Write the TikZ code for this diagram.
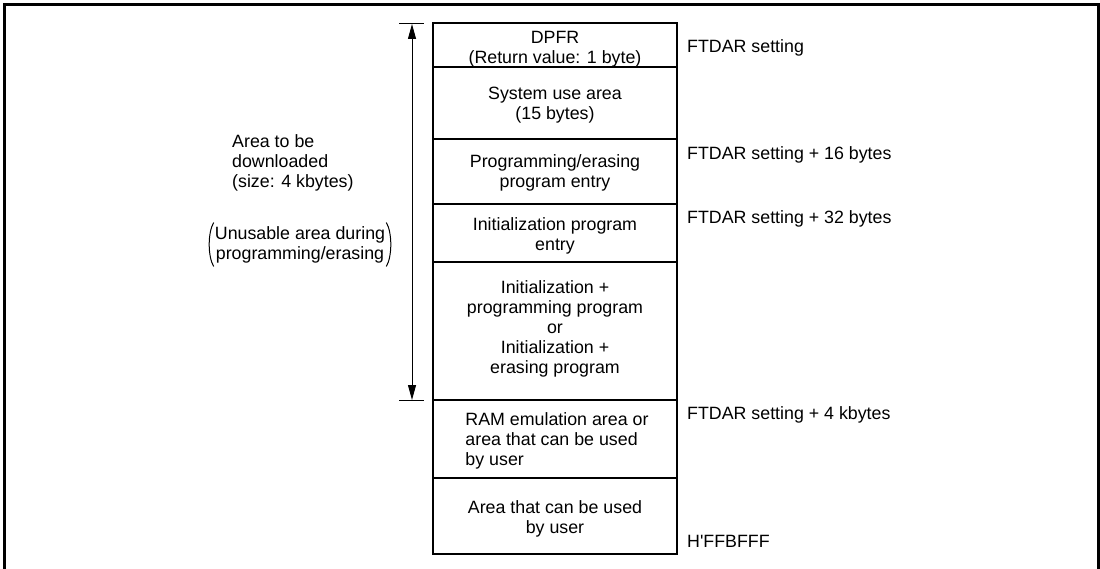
\documentclass[tikz,border=0pt]{standalone}
\usepackage{fontspec}
\setmainfont{Liberation Sans}
\usetikzlibrary{calc,arrows.meta}
\tikzset{
  txt/.style={font=\fontsize{17.8}{20}\selectfont, text=black, inner sep=0pt},
  memb/.style={draw, line width=2.2pt, minimum width=244pt, inner sep=0pt},
  memt/.style={txt, align=center},
  side/.style={txt, anchor=base west},
  dimline/.style={line width=1pt},
}
\begin{document}
\begin{tikzpicture}[x=1pt,y=-1pt]
\useasboundingbox (0,0) rectangle (1100,569);
% outer frame (open at bottom)
\coordinate (fbl) at (4.5,569);
\coordinate (ftl) at (4.5,4.5);
\coordinate (ftr) at (1098,4.5);
\coordinate (fbr) at (1098,569);
\draw[line width=3pt] (fbl) -- (ftl) -- (ftr) -- (fbr);

% memory map boxes
\node[memb, minimum height=44pt] (dpfr) at (555,45) {};
\node[memb, minimum height=72pt] (sys) at (555,103) {};
\node[memb, minimum height=65pt] (prog) at (555,171.5) {};
\node[memb, minimum height=58pt] (inite) at (555,233) {};
\node[memb, minimum height=138pt] (main) at (555,331) {};
\node[memb, minimum height=78pt] (ram) at (555,439) {};
\node[memb, minimum height=76pt] (user) at (555,516) {};

% box texts
\node[memt] (dpfrt) at ($(dpfr.center)+(0,4)$) {DPFR\\(Return value: 1 byte)};
\node[memt] (syst) at ($(sys.center)+(0,2)$) {System use area\\(15 bytes)};
\node[memt] (progt) at ($(prog.center)+(0,1.5)$) {Programming/erasing\\program entry};
\node[memt] (initet) at ($(inite.center)+(0,3)$) {Initialization program\\entry};
\node[memt] (maint) at ($(main.center)+(0,-2)$) {Initialization +\\programming program\\or\\Initialization +\\erasing program};
\node[txt, align=left] (ramt) at ($(ram.center)+(2,2)$) {RAM emulation area or\\area that can be used\\by user};
\node[memt] (usert) at ($(user.center)+(0,3)$) {Area that can be used\\by user};

% right-hand address labels
\node[side] (a0) at (687,52.5) {FTDAR setting};
\node[side] (a16) at (687,159.5) {FTDAR setting + 16 bytes};
\node[side] (a32) at (687,223.5) {FTDAR setting + 32 bytes};
\node[side] (a4k) at (687,419.5) {FTDAR setting + 4 kbytes};
\node[side] (aend) at (687,547.5) {H\textquotesingle FFBFFF};

% dimension arrow
\coordinate (arrtop) at (412,24);
\coordinate (arrbot) at (412,400);
\coordinate (ttl) at (399,24);
\coordinate (ttr) at (424,24);
\coordinate (tbl) at (399,400);
\coordinate (tbr) at (424,400);
\draw[dimline] (ttl) -- (ttr);
\draw[dimline] (tbl) -- (tbr);
\draw[dimline, {Triangle[length=15pt,width=8pt]}-{Triangle[length=15pt,width=8pt]}] (arrtop) -- (arrbot);

% left description
\node[txt, align=left, anchor=west] (dl) at (232,163) {Area to be\\downloaded\\(size: 4 kbytes)};
\node[txt, align=center] (un) at (300,244.5) {Unusable area during\\programming/erasing};
\draw[line width=1pt] ($(un.west)+(-1,-22)$) .. controls ($(un.west)+(-7,-12)$) and ($(un.west)+(-7,12)$) .. ($(un.west)+(-1,22)$);
\draw[line width=1pt] ($(un.east)+(1,-22)$) .. controls ($(un.east)+(7,-12)$) and ($(un.east)+(7,12)$) .. ($(un.east)+(1,22)$);
\end{tikzpicture}
\end{document}
